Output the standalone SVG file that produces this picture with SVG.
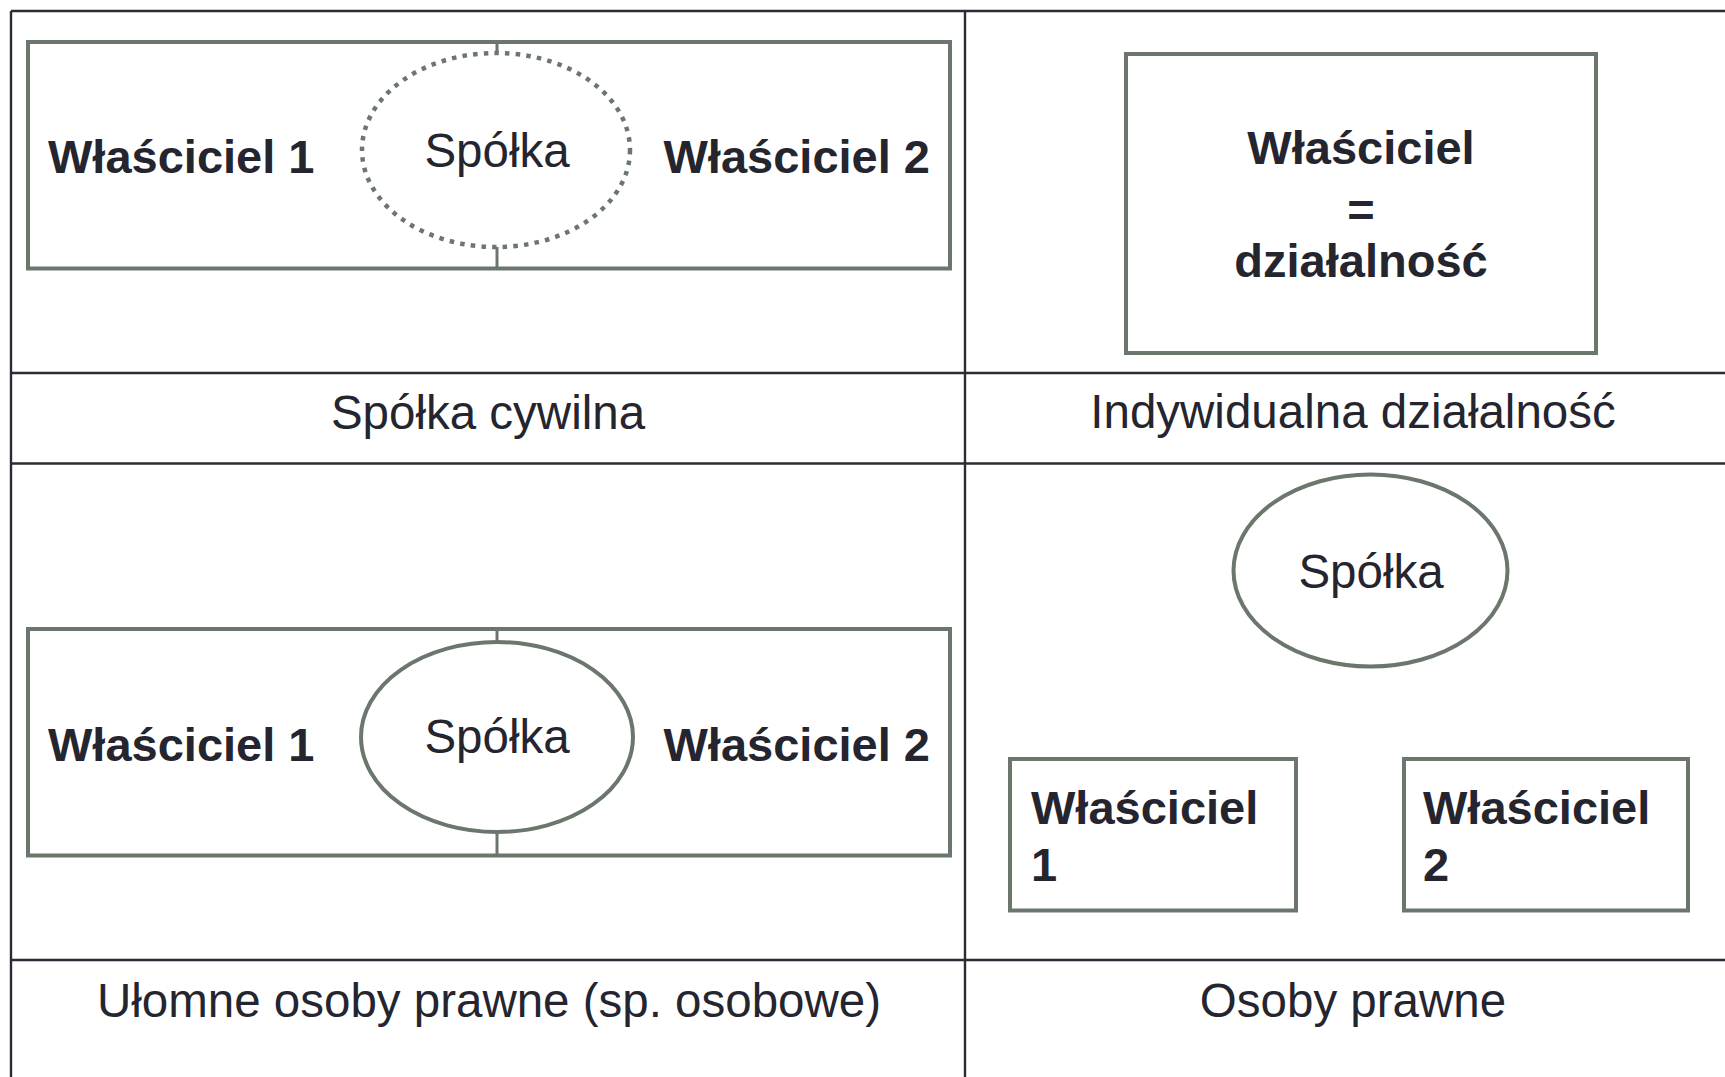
<svg xmlns="http://www.w3.org/2000/svg" width="1725" height="1077" viewBox="0 0 1725 1077">
  <style>
    .grid { stroke: #2b2b36; stroke-width: 2.4; fill: none; }
    .shape { stroke: #6b776c; stroke-width: 4; fill: none; }
    .conn { stroke: #6b776c; stroke-width: 3; fill: none; }
    .dotted { stroke: #6b776c; stroke-width: 4.5; fill: none; stroke-dasharray: 4.5 6.2; }
    .bold { font-family: "Liberation Sans", Arial, sans-serif; font-weight: bold; font-size: 47px; fill: #25252f; }
    .reg { font-family: "Liberation Sans", Arial, sans-serif; font-size: 47.5px; fill: #25252f; }
  </style>
  <rect x="0" y="0" width="1725" height="1077" fill="#ffffff"/>

  <g id="table">
    <line class="grid" x1="11" y1="11" x2="1725" y2="11"/>
    <line class="grid" x1="11" y1="373" x2="1725" y2="373"/>
    <line class="grid" x1="11" y1="463.5" x2="1725" y2="463.5"/>
    <line class="grid" x1="11" y1="960" x2="1725" y2="960"/>
    <line class="grid" x1="11" y1="11" x2="11" y2="1077"/>
    <line class="grid" x1="965" y1="11" x2="965" y2="1077"/>
  </g>

  <g id="connectors">
    <line class="conn" x1="497" y1="42" x2="497" y2="53"/>
    <line class="conn" x1="497" y1="247" x2="497" y2="268"/>
    <line class="conn" x1="497" y1="629" x2="497" y2="642"/>
    <line class="conn" x1="497" y1="832" x2="497" y2="856"/>
  </g>

  <g id="spolka-cywilna-frame">
    <rect class="shape" x="28" y="42" width="922" height="226.5"/>
  </g>
  <g id="spolka-cywilna-wlasciciel1">
    <text class="bold" x="48" y="173">Właściciel 1</text>
  </g>
  <g id="spolka-cywilna-spolka">
    <ellipse class="dotted" cx="496" cy="150" rx="134" ry="97"/>
    <text class="reg" x="497" y="167" text-anchor="middle">Spółka</text>
  </g>
  <g id="spolka-cywilna-wlasciciel2">
    <text class="bold" x="930" y="173" text-anchor="end">Właściciel 2</text>
  </g>
  <g id="label-spolka-cywilna">
    <text class="reg" x="488" y="429" text-anchor="middle">Spółka cywilna</text>
  </g>

  <g id="indywidualna-box">
    <rect class="shape" x="1126" y="54" width="470" height="299"/>
    <text class="bold" x="1361" y="164" text-anchor="middle">Właściciel</text>
    <text class="bold" x="1361" y="226" text-anchor="middle">=</text>
    <text class="bold" x="1361" y="277" text-anchor="middle">działalność</text>
  </g>
  <g id="label-indywidualna">
    <text class="reg" x="1353" y="428" text-anchor="middle">Indywidualna działalność</text>
  </g>

  <g id="ulomne-frame">
    <rect class="shape" x="28" y="629" width="922" height="226.5"/>
  </g>
  <g id="ulomne-wlasciciel1">
    <text class="bold" x="48" y="761">Właściciel 1</text>
  </g>
  <g id="ulomne-spolka">
    <ellipse class="shape" cx="497" cy="737" rx="136" ry="95"/>
    <text class="reg" x="497" y="753" text-anchor="middle">Spółka</text>
  </g>
  <g id="ulomne-wlasciciel2">
    <text class="bold" x="930" y="761" text-anchor="end">Właściciel 2</text>
  </g>
  <g id="label-ulomne">
    <text class="reg" x="489" y="1017" text-anchor="middle">Ułomne osoby prawne (sp. osobowe)</text>
  </g>

  <g id="osoby-spolka">
    <ellipse class="shape" cx="1370.5" cy="570.5" rx="137" ry="96"/>
    <text class="reg" x="1371" y="588" text-anchor="middle">Spółka</text>
  </g>
  <g id="osoby-wlasciciel1">
    <rect class="shape" x="1010" y="759" width="286" height="151.5"/>
    <text class="bold" x="1031" y="824">Właściciel</text>
    <text class="bold" x="1031" y="881">1</text>
  </g>
  <g id="osoby-wlasciciel2">
    <rect class="shape" x="1404" y="759" width="284" height="151.5"/>
    <text class="bold" x="1423" y="824">Właściciel</text>
    <text class="bold" x="1423" y="881">2</text>
  </g>
  <g id="label-osoby">
    <text class="reg" x="1353" y="1017" text-anchor="middle">Osoby prawne</text>
  </g>
</svg>
